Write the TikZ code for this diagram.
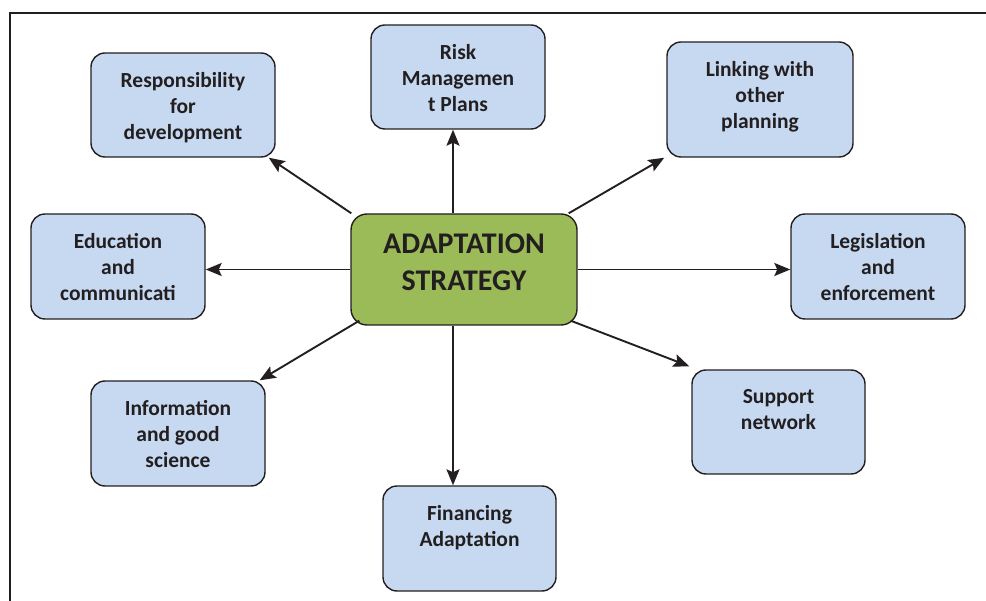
\documentclass[tikz,border=0pt]{standalone}
\usepackage{fontspec}
\setmainfont{Carlito}
\usepackage{xcolor}
\usetikzlibrary{arrows.meta,calc}

\definecolor{boxblue}{HTML}{C6D9F1}
\definecolor{coregreen}{HTML}{9BBB59}
\definecolor{inkline}{HTML}{231F20}

% top aligned text inside a fixed box
\newcommand{\topbox}[3]{\parbox[c][#2][t]{#1}{\centering\vspace{19pt}#3}}

\begin{document}
\begin{tikzpicture}[x=1pt, y=-1pt,
  every node/.style={font=\bfseries\fontsize{21.5}{26}\selectfont, text=inkline},
  item/.style={rectangle, draw=inkline, fill=boxblue, line width=1.4pt, rounded corners=14pt, inner sep=0pt},
  hub/.style={rectangle, draw=inkline, fill=coregreen, line width=1.4pt, rounded corners=16pt, inner sep=0pt,
              font=\bfseries\fontsize{30}{37}\selectfont},
  link/.style={-{Stealth[length=16pt, width=13pt, inset=3pt]}, draw=inkline, line width=1.9pt}]

\useasboundingbox (0,0) rectangle (986,601);

% frame
\draw[inkline, line width=1.5pt] (10,601) -- (10,13) -- (986,13);

\node[hub] (core) at (464,269.5) {\parbox[c][111pt][t]{226pt}{\centering\vspace{20pt}ADAPTATION\\ STRATEGY}};

\node[item] (resp)  at (183,105)   {\topbox{184pt}{104pt}{Responsibility\\ for\\ development}};
\node[item] (risk)  at (458,77)    {\topbox{174pt}{104pt}{Risk\\ Managemen\\ t Plans}};
\node[item] (plan)  at (760,99.5)  {\topbox{186pt}{115pt}{Linking with\\ other\\ planning}};
\node[item] (edu)   at (118,266.5) {\topbox{174pt}{105pt}{Education\\ and\\ communicati}};
\node[item] (legis) at (878,266.5) {\topbox{174pt}{105pt}{Legislation\\ and\\ enforcement}};
\node[item] (info)  at (178,433.5) {\topbox{174pt}{105pt}{Information\\ and good\\ science}};
\node[item] (supp)  at (778.5,422) {\topbox{173pt}{104pt}{Support\\ network}};
\node[item] (fin)   at (469.5,538.5) {\topbox{173pt}{105pt}{Financing\\ Adaptation}};

\draw[link] ([xshift=1pt]core.north west) -- ([xshift=-7pt]resp.south east);
\draw[link] ([xshift=-11pt]core.north) -- ([xshift=-11pt]core.north |- risk.south);
\draw[link] ([xshift=-9pt]core.north east) -- ([xshift=-2pt]plan.south west);
\draw[link] (core.west) -- (core.west -| edu.east);
\draw[link] (core.east) -- (core.east -| legis.west);
\draw[link] ([xshift=9pt,yshift=5pt]core.south west) -- ([xshift=-6pt]info.north east);
\draw[link] ([xshift=-7pt,yshift=5pt]core.south east) -- ([xshift=-2pt,yshift=3pt]supp.north west);
\draw[link] ([xshift=-11pt]core.south) -- ([xshift=-11pt]core.south |- fin.north);

\end{tikzpicture}
\end{document}
